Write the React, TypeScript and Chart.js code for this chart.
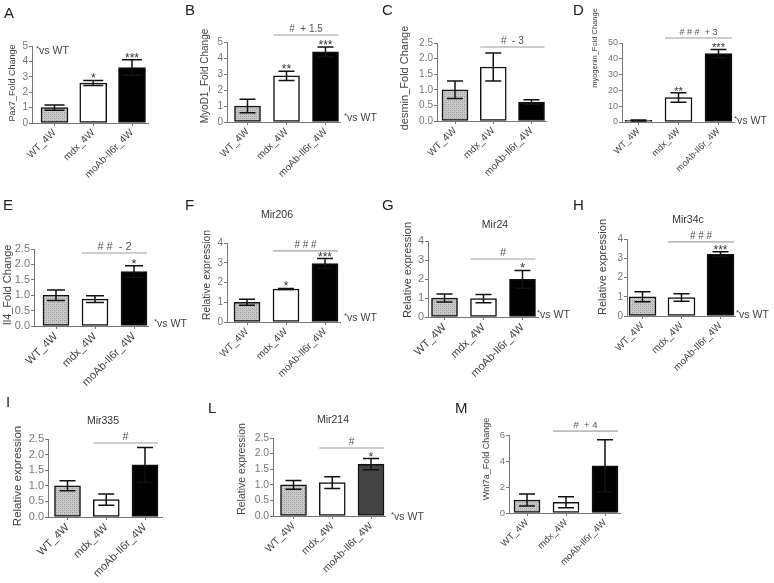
import React, { useEffect, useRef } from 'react';
import { Chart, registerables } from 'chart.js';
Chart.register(...registerables);

const FONT = '"Liberation Sans", Arial, Helvetica, sans-serif';
Chart.defaults.font.family = FONT;

const groups = ['WT_4W', 'mdx_4W', 'moAb-Il6r_4W'];

// A  Pax7
const pax7Mean = [1.0, 2.6, 3.6];
const pax7Sem = [0.17, 0.16, 0.5];
const pax7Stars = ['', '*', '***'];
// B  MyoD1
const myod1Mean = [1.0, 2.88, 4.38];
const myod1Sem = [0.42, 0.29, 0.3];
const myod1Stars = ['', '**', '***'];
// C  desmin
const desminMean = [1.0, 1.73, 0.61];
const desminSem = [0.28, 0.45, 0.07];
// D  myogenin
const myogMean = [1.0, 15.5, 43.3];
const myogSem = [0.3, 3.0, 2.6];
const myogStars = ['', '**', '***'];
// E  Il4
const il4Mean = [1.0, 0.87, 1.77];
const il4Sem = [0.17, 0.11, 0.19];
const il4Stars = ['', '', '*'];
// F  Mir206
const mir206Mean = [1.0, 1.67, 2.96];
const mir206Sem = [0.15, 0.03, 0.25];
const mir206Stars = ['', '*', '***'];
// G  Mir24
const mir24Mean = [1.0, 0.97, 1.98];
const mir24Sem = [0.21, 0.22, 0.47];
const mir24Stars = ['', '', '*'];
// H  Mir34c
const mir34cMean = [1.0, 0.96, 3.21];
const mir34cSem = [0.26, 0.2, 0.13];
const mir34cStars = ['', '', '***'];
// I  Mir335
const mir335Mean = [1.0, 0.56, 1.67];
const mir335Sem = [0.16, 0.18, 0.56];
// L  Mir214
const mir214Mean = [1.0, 1.07, 1.66];
const mir214Sem = [0.14, 0.19, 0.18];
const mir214Stars = ['', '', '*'];
// M  Wnt7a
const wnt7aMean = [1.0, 0.83, 3.63];
const wnt7aSem = [0.46, 0.42, 2.0];

type Layout = {
  axisX: number; right: number; top: number; bottom: number;
  c0: number; step: number; bw: number; capW: number;
  fs: number; tfs: number; yTitleX: number; yTitleY: number;
  letterX: number; letterY: number;
  titleX?: number; titleY?: number;
  vsX?: number; vsY?: number;
};

type PanelDef = {
  letter: string; title?: string; yTitle: string;
  mean: number[]; sem: number[]; stars?: string[];
  sig?: { text: string; y: number };
  yMax: number; yStep: number; dec: number;
  colors: string[];
  layout: Layout;
};

const panels: PanelDef[] = [
  {
    letter: 'A', yTitle: 'Pax7_Fold Change', mean: pax7Mean, sem: pax7Sem, stars: pax7Stars,
    yMax: 5, yStep: 1, dec: 0, colors: ['pattern', '#ffffff', '#000000'],
    layout: { axisX: 32, right: 148, top: 46, bottom: 123, c0: 54.5, step: 38.75, bw: 27, capW: 20, fs: 10, tfs: 9, yTitleX: 13, yTitleY: 83, letterX: 4, letterY: 18, vsX: 36, vsY: 54 },
  },
  {
    letter: 'B', yTitle: 'MyoD1_Fold Change', mean: myod1Mean, sem: myod1Sem, stars: myod1Stars,
    sig: { text: '#  + 1.5', y: 5.44 },
    yMax: 5, yStep: 1, dec: 0, colors: ['pattern', '#ffffff', '#000000'],
    layout: { axisX: 227, right: 340, top: 42, bottom: 122, c0: 247.5, step: 39, bw: 26, capW: 16, fs: 10, tfs: 10, yTitleX: 205, yTitleY: 76, letterX: 185, letterY: 15, vsX: 344, vsY: 121 },
  },
  {
    letter: 'C', yTitle: 'desmin_Fold Change', mean: desminMean, sem: desminSem,
    sig: { text: '#  - 3', y: 2.37 },
    yMax: 2.5, yStep: 0.5, dec: 1, colors: ['pattern', '#ffffff', '#000000'],
    layout: { axisX: 437, right: 546, top: 43, bottom: 121, c0: 455, step: 38.25, bw: 26, capW: 16, fs: 10, tfs: 11, yTitleX: 405, yTitleY: 78, letterX: 382, letterY: 15 },
  },
  {
    letter: 'D', yTitle: 'myogenin_Fold Change', mean: myogMean, sem: myogSem, stars: myogStars,
    sig: { text: '# # #  + 3', y: 53.2 },
    yMax: 50, yStep: 10, dec: 0, colors: ['pattern', '#ffffff', '#000000'],
    layout: { axisX: 622, right: 734, top: 43, bottom: 122, c0: 638.5, step: 40, bw: 27, capW: 16, fs: 9, tfs: 7.5, yTitleX: 595, yTitleY: 48, letterX: 573, letterY: 15, vsX: 734, vsY: 124 },
  },
  {
    letter: 'E', yTitle: 'Il4_Fold Change', mean: il4Mean, sem: il4Sem, stars: il4Stars,
    sig: { text: '# #  - 2', y: 2.37 },
    yMax: 2.5, yStep: 0.5, dec: 1, colors: ['pattern', '#ffffff', '#000000'],
    layout: { axisX: 34, right: 148, top: 249, bottom: 326, c0: 56, step: 39, bw: 26, capW: 18, fs: 11, tfs: 11, yTitleX: 8, yTitleY: 285, letterX: 3, letterY: 210, vsX: 154, vsY: 327 },
  },
  {
    letter: 'F', title: 'Mir206', yTitle: 'Relative expression', mean: mir206Mean, sem: mir206Sem, stars: mir206Stars,
    sig: { text: '# # #', y: 3.6 },
    yMax: 4, yStep: 1, dec: 0, colors: ['pattern', '#ffffff', '#000000'],
    layout: { axisX: 227, right: 340, top: 243, bottom: 322, c0: 247, step: 39, bw: 26, capW: 16, fs: 10, tfs: 10.3, yTitleX: 207, yTitleY: 275, letterX: 185, letterY: 210, titleX: 277, titleY: 218, vsX: 344, vsY: 321 },
  },
  {
    letter: 'G', title: 'Mir24', yTitle: 'Relative expression', mean: mir24Mean, sem: mir24Sem, stars: mir24Stars,
    sig: { text: '#', y: 3.05 },
    yMax: 4, yStep: 1, dec: 0, colors: ['pattern', '#ffffff', '#000000'],
    layout: { axisX: 428, right: 538, top: 241, bottom: 317, c0: 444.5, step: 39, bw: 26, capW: 16, fs: 11, tfs: 11, yTitleX: 408, yTitleY: 270, letterX: 382, letterY: 210, titleX: 495, titleY: 228, vsX: 537, vsY: 318 },
  },
  {
    letter: 'H', title: 'Mir34c', yTitle: 'Relative expression', mean: mir34cMean, sem: mir34cSem, stars: mir34cStars,
    sig: { text: '# # #', y: 3.85 },
    yMax: 4, yStep: 1, dec: 0, colors: ['pattern', '#ffffff', '#000000'],
    layout: { axisX: 627, right: 735, top: 239, bottom: 316, c0: 642.5, step: 39, bw: 27, capW: 16, fs: 10, tfs: 11, yTitleX: 603, yTitleY: 267, letterX: 573, letterY: 210, titleX: 688, titleY: 223, vsX: 736, vsY: 318 },
  },
  {
    letter: 'I', title: 'Mir335', yTitle: 'Relative expression', mean: mir335Mean, sem: mir335Sem,
    sig: { text: '#', y: 2.37 },
    yMax: 2.5, yStep: 0.5, dec: 1, colors: ['pattern', '#ffffff', '#000000'],
    layout: { axisX: 48, right: 162, top: 439, bottom: 517, c0: 67.5, step: 38.75, bw: 26, capW: 16, fs: 11, tfs: 11.5, yTitleX: 18, yTitleY: 476, letterX: 6, letterY: 407, titleX: 103, titleY: 424 },
  },
  {
    letter: 'L', title: 'Mir214', yTitle: 'Relative expression', mean: mir214Mean, sem: mir214Sem, stars: mir214Stars,
    sig: { text: '#', y: 2.18 },
    yMax: 2.5, yStep: 0.5, dec: 1, colors: ['pattern', '#ffffff', '#444444'],
    layout: { axisX: 273, right: 385, top: 438, bottom: 516, c0: 293.5, step: 38.75, bw: 26, capW: 16, fs: 10.3, tfs: 10.5, yTitleX: 242, yTitleY: 469, letterX: 208, letterY: 413, titleX: 333, titleY: 423, vsX: 391, vsY: 520 },
  },
  {
    letter: 'M', yTitle: 'Wnt7a_Fold Change', mean: wnt7aMean, sem: wnt7aSem,
    sig: { text: '#  + 4', y: 6.3 },
    yMax: 6, yStep: 2, dec: 0, colors: ['pattern', '#ffffff', '#000000'],
    layout: { axisX: 509, right: 620, top: 435, bottom: 513, c0: 527, step: 39, bw: 26, capW: 16, fs: 9.5, tfs: 9, yTitleX: 487, yTitleY: 459, letterX: 455, letterY: 413 },
  },
];

const W = 774;
const H = 583;
const Y_W = 30;
const X_H = 64;

function makePattern(ctx: CanvasRenderingContext2D) {
  const pc = document.createElement('canvas');
  pc.width = 4; pc.height = 4;
  const p = pc.getContext('2d')!;
  p.fillStyle = '#c8c8c8';
  p.fillRect(0, 0, 4, 4);
  p.fillStyle = '#999999';
  p.fillRect(0, 0, 1, 1);
  p.fillRect(2, 2, 1, 1);
  p.fillStyle = '#b0b0b0';
  p.fillRect(2, 0, 1, 1);
  p.fillRect(0, 2, 1, 1);
  return ctx.createPattern(pc, 'repeat');
}

function Panel({ def }: { def: PanelDef }) {
  const ref = useRef<HTMLCanvasElement>(null);
  useEffect(() => {
    const canvas = ref.current!;
    const L = def.layout;
    const ctx0 = canvas.getContext('2d')!;
    const pattern = makePattern(ctx0);
    const colors = def.colors.map((c) => (c === 'pattern' ? pattern : c));
    const xmin = (L.axisX - L.c0) / L.step;
    const xmax = (L.right - L.c0) / L.step;

    const annot = {
      id: 'annot' + def.letter,
      afterDraw(chart: any) {
        const ctx: CanvasRenderingContext2D = chart.ctx;
        const xs = chart.scales.x;
        const ys = chart.scales.y;
        ctx.save();
        // error bars
        def.mean.forEach((m, i) => {
          const x = xs.getPixelForValue(i);
          const yt = ys.getPixelForValue(m + def.sem[i]);
          const yb = ys.getPixelForValue(Math.max(0, m - def.sem[i]));
          ctx.strokeStyle = '#111';
          ctx.lineWidth = 1.5;
          ctx.beginPath();
          ctx.moveTo(x, yb); ctx.lineTo(x, yt);
          ctx.moveTo(x - L.capW / 2, yt); ctx.lineTo(x + L.capW / 2, yt);
          ctx.moveTo(x - L.capW / 2, yb); ctx.lineTo(x + L.capW / 2, yb);
          ctx.stroke();
          const s = def.stars ? def.stars[i] : '';
          if (s) {
            ctx.fillStyle = '#333';
            ctx.font = `${L.fs + 2}px ${FONT}`;
            ctx.textAlign = 'center';
            ctx.textBaseline = 'alphabetic';
            ctx.fillText(s, x, yt + 2);
          }
        });
        // significance line
        if (def.sig) {
          const y = ys.getPixelForValue(def.sig.y);
          const x1 = xs.getPixelForValue(1) - L.bw / 2;
          const x2 = xs.getPixelForValue(2) + L.bw / 2;
          ctx.strokeStyle = '#bdbdbd';
          ctx.lineWidth = 1.6;
          ctx.beginPath();
          ctx.moveTo(x1, y); ctx.lineTo(x2, y);
          ctx.stroke();
          ctx.fillStyle = '#555';
          ctx.font = `${L.fs}px ${FONT}`;
          ctx.textAlign = 'center';
          ctx.textBaseline = 'alphabetic';
          ctx.fillText(def.sig.text, (x1 + x2) / 2, y - 3);
        }
        // panel letter
        ctx.fillStyle = '#222';
        ctx.font = `15px ${FONT}`;
        ctx.textAlign = 'left';
        ctx.textBaseline = 'alphabetic';
        ctx.fillText(def.letter, L.letterX, L.letterY);
        // chart title
        if (def.title && L.titleX !== undefined) {
          ctx.fillStyle = '#333';
          ctx.font = `10.5px ${FONT}`;
          ctx.textAlign = 'center';
          ctx.fillText(def.title, L.titleX, L.titleY!);
        }
        // y title
        ctx.save();
        ctx.translate(L.yTitleX, L.yTitleY);
        ctx.rotate(-Math.PI / 2);
        ctx.fillStyle = '#444';
        ctx.font = `${L.tfs}px ${FONT}`;
        ctx.textAlign = 'center';
        ctx.textBaseline = 'middle';
        ctx.fillText(def.yTitle, 0, 0);
        ctx.restore();
        // *vs WT
        if (L.vsX !== undefined) {
          ctx.fillStyle = '#444';
          ctx.textAlign = 'left';
          ctx.textBaseline = 'alphabetic';
          ctx.font = `8px ${FONT}`;
          ctx.fillText('*', L.vsX, L.vsY! - 3);
          const w = ctx.measureText('*').width;
          ctx.font = `10.5px ${FONT}`;
          ctx.fillText('vs WT', L.vsX + w, L.vsY!);
        }
        ctx.restore();
      },
    };

    const gridCommon = { display: true, drawOnChartArea: false, drawTicks: true, tickLength: 3, color: '#777', lineWidth: 1 };
    const chart = new Chart(canvas, {
      type: 'bar',
      data: {
        datasets: [{
          data: def.mean.map((v, i) => ({ x: i, y: v })),
          backgroundColor: colors as any,
          borderColor: '#111',
          borderWidth: 1.5,
          borderSkipped: false,
          barThickness: L.bw,
        }],
      },
      options: {
        responsive: false,
        animation: false,
        devicePixelRatio: 1,
        layout: { padding: { left: L.axisX - Y_W, right: W - L.right, top: L.top, bottom: H - L.bottom - X_H } },
        plugins: { legend: { display: false }, tooltip: { enabled: false } },
        scales: {
          x: {
            type: 'linear', min: xmin, max: xmax, offset: false,
            afterFit: (s: any) => { s.height = X_H; },
            afterBuildTicks: (s: any) => { s.ticks = groups.map((_, i) => ({ value: i })); },
            ticks: {
              autoSkip: false, minRotation: 45, maxRotation: 45, padding: 1,
              color: '#444', font: { size: L.fs, family: FONT },
              callback: (v: any) => groups[Math.round(Number(v))] ?? '',
            },
            grid: { ...gridCommon, offset: false },
            border: { display: true, color: '#777', width: 1 },
          },
          y: {
            type: 'linear', min: 0, max: def.yMax,
            afterFit: (s: any) => { s.width = Y_W; },
            ticks: {
              stepSize: def.yStep, padding: 1, color: '#777', autoSkip: false,
              font: { size: L.fs, family: FONT },
              callback: (v: any) => Number(v).toFixed(def.dec),
            },
            grid: gridCommon,
            border: { display: true, color: '#777', width: 1 },
          },
        },
      } as any,
      plugins: [annot],
    });
    return () => chart.destroy();
  }, [def]);
  return (
    <canvas
      ref={ref}
      width={W}
      height={H}
      style={{ position: 'absolute', left: 0, top: 0, width: W, height: H, pointerEvents: 'none' }}
    />
  );
}

export default function App() {
  return (
    <div style={{ position: 'absolute', left: 0, top: 0, width: W, height: H, background: '#fff', overflow: 'hidden' }}>
      {panels.map((p) => (
        <Panel key={p.letter} def={p} />
      ))}
    </div>
  );
}
